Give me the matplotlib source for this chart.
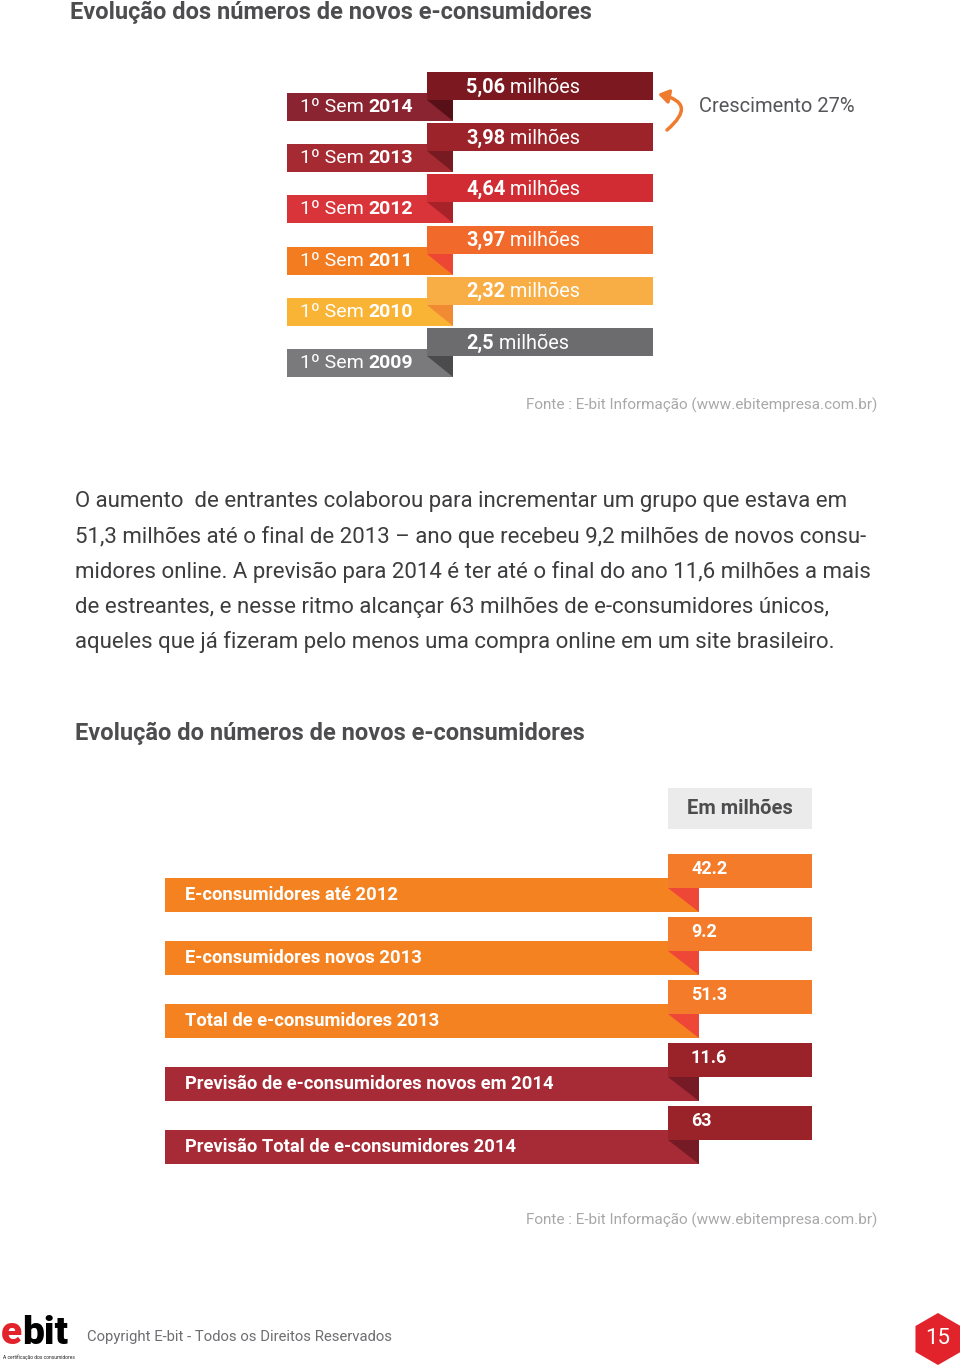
import matplotlib.pyplot as plt
from matplotlib.patches import Rectangle, Polygon, RegularPolygon, FancyArrowPatch

plt.rcParams['font.family'] = ['Roboto', 'DejaVu Sans']

# --- dados do gráfico de cima ---
top_years = ['2014', '2013', '2012', '2011', '2010', '2009']
top_values = ['5,06', '3,98', '4,64', '3,97', '2,32', '2,5']
top_value_colors = ['#7c1820', '#9c2329', '#d12c34', '#f26a2b', '#f8ae45', '#6c6c6f']
top_label_colors = ['#8a2430', '#a52a31', '#da343b', '#f47c20', '#f9b436', '#7a7a7c']
top_fold_colors = ['#571018', '#781a22', '#a8222a', '#ee4634', '#f08b34', '#4b4b4e']
growth = 'Crescimento 27%'

# --- dados do gráfico de baixo ---
bottom_labels = ['E-consumidores até 2012', 'E-consumidores novos 2013',
                 'Total de e-consumidores 2013', 'Previsão de e-consumidores novos em 2014',
                 'Previsão Total de e-consumidores 2014']
bottom_values = ['42.2', '9.2', '51.3', '11.6', '63']
bottom_bar_colors = ['#f58220', '#f58220', '#f58220', '#a62b36', '#a62b36']
bottom_box_colors = ['#f37b2a', '#f37b2a', '#f37b2a', '#9a2229', '#9a2229']
bottom_fold_colors = ['#ee4637', '#ee4637', '#ee4637', '#761a26', '#761a26']

fonte = 'Fonte : E-bit Informação (www.ebitempresa.com.br)'
paragraph = [
    'O aumento  de entrantes colaborou para incrementar um grupo que estava em',
    '51,3 milhões até o final de 2013 – ano que recebeu 9,2 milhões de novos consu-',
    'midores online. A previsão para 2014 é ter até o final do ano 11,6 milhões a mais',
    'de estreantes, e nesse ritmo alcançar 63 milhões de e-consumidores únicos,',
    'aqueles que já fizeram pelo menos uma compra online em um site brasileiro.',
]

dark = '#4d4d4f'

fig = plt.figure(figsize=(9.6, 13.65), dpi=100)
ax = fig.add_axes([0, 0, 1, 1])
ax.set_xlim(0, 960)
ax.set_ylim(1365, 0)
ax.axis('off')


def two_part(x, y, first, second, size, first_bold=False, color='white'):
    t1 = ax.text(x, y, first, fontsize=size, color=color, va='center', ha='left',
                 fontweight='bold' if first_bold else 'normal')
    ax.annotate(second, xy=(1, 0), xycoords=t1, va='bottom', ha='left', fontsize=size,
                color=color, fontweight='normal' if first_bold else 'bold')


ax.text(70, 12, 'Evolução dos números de novos e-consumidores', fontsize=17,
        fontweight='bold', color=dark, va='center')

# gráfico de cima: faixas dobradas
step = 51.2
for i, year in enumerate(top_years):
    y0 = 72 + i * step
    ax.add_patch(Rectangle((287, y0 + 21), 166, 28, color=top_label_colors[i], lw=0))
    ax.add_patch(Rectangle((427, y0), 226, 28, color=top_value_colors[i], lw=0))
    ax.add_patch(Polygon([(427, y0 + 28), (453, y0 + 28), (453, y0 + 49)],
                         closed=True, color=top_fold_colors[i], lw=0))
    two_part(466, y0 + 15, top_values[i], ' milhões', 14.3, first_bold=True)
    two_part(300, y0 + 35, '1º Sem ', year, 14)

arrow = FancyArrowPatch((667, 130), (658, 94), connectionstyle='arc3,rad=1.0',
                        arrowstyle='-|>,head_length=6,head_width=4', color='#f07a2e',
                        lw=2.5, mutation_scale=1, shrinkA=0, shrinkB=0)
ax.add_patch(arrow)
ax.text(699, 106, growth, fontsize=14.5, color='#55565a', va='center')

ax.text(526, 405, fonte, fontsize=11, color='#a8a8aa', va='center')

for j, line in enumerate(paragraph):
    ax.text(75, 502 + j * 35, line, fontsize=16, color='#3d3d3f', va='center')

ax.text(75, 733, 'Evolução do números de novos e-consumidores', fontsize=17,
        fontweight='bold', color=dark, va='center')

# gráfico de baixo
ax.add_patch(Rectangle((668, 788), 144, 41, color='#ebebeb', lw=0))
ax.text(740, 808, 'Em milhões', fontsize=14.5, fontweight='bold', color=dark,
        ha='center', va='center')

step2 = 63
for i, label in enumerate(bottom_labels):
    y0 = 854 + i * step2
    ax.add_patch(Rectangle((165, y0 + 24), 534, 34, color=bottom_bar_colors[i], lw=0))
    ax.add_patch(Rectangle((668, y0), 144, 34, color=bottom_box_colors[i], lw=0))
    ax.add_patch(Polygon([(668, y0 + 34), (699, y0 + 34), (699, y0 + 58)],
                         closed=True, color=bottom_fold_colors[i], lw=0))
    ax.text(691, y0 + 15, bottom_values[i], fontsize=13, fontweight='bold',
            color='white', va='center')
    ax.text(185, y0 + 41, label, fontsize=13.2, fontweight='bold', color='white',
            va='center')

ax.text(526, 1220, fonte, fontsize=11, color='#a8a8aa', va='center')

# rodapé
t_e = ax.text(1, 1344, 'e', fontsize=28, fontweight='heavy', color='#e2232b',
              va='baseline')
ax.annotate('bit', xy=(1, 0), xycoords=t_e, va='bottom', ha='left', fontsize=28,
            fontweight='heavy', color='black')
ax.text(3, 1357, 'A certificação dos consumidores', fontsize=3.5, color='#222222',
        va='center')
ax.text(87, 1337, 'Copyright E-bit - Todos os Direitos Reservados', fontsize=10.7,
        color='#6d6e71', va='center')
ax.add_patch(RegularPolygon((938, 1339), numVertices=6, radius=26, orientation=0,
                            color='#e2232b', lw=0))
ax.text(938, 1339, '15', fontsize=16, color='white', ha='center', va='center')

fig.savefig('out.png', dpi=100, facecolor='white')
